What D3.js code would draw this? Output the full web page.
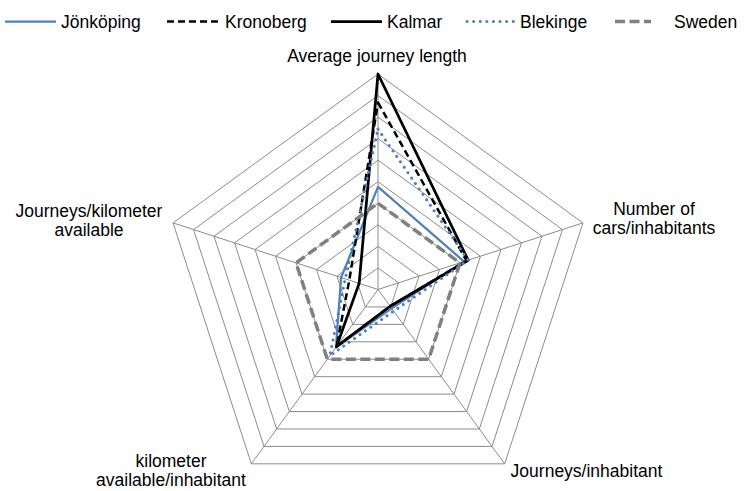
<!DOCTYPE html>
<html>
<head>
<meta charset="utf-8">
<script src="https://cdn.jsdelivr.net/npm/d3@7"></script>
<style>
  body { margin: 0; background: #fff; }
  text { font-family: Arial, "Liberation Sans", sans-serif; fill: #000; }
</style>
</head>
<body>
<div id="chart-area"></div>
<script>
// axes, clockwise from the top
var axes = ["Average journey length", "Number of cars/inhabitants", "Journeys/inhabitant",
            "kilometer available/inhabitant", "Journeys/kilometer available"];
var axisLines = [["Average journey length"], ["Number of", "cars/inhabitants"], ["Journeys/inhabitant"],
                 ["kilometer", "available/inhabitant"], ["Journeys/kilometer", "available"]];

// index, Sweden = 100
var jonkoping = [119, 105, 27, 83, 45];
var kronoberg = [217, 108, 24, 82, 35];
var kalmar    = [250, 110, 24, 82, 23];
var blekinge  = [186, 110, 31, 95, 40];
var sweden    = [100, 100, 100, 100, 100];

var seriesNames = ["Jönköping", "Kronoberg", "Kalmar", "Blekinge", "Sweden"];
var gridTicks = [25, 50, 75, 100, 125, 150, 175, 200, 225, 250];

var width = 744, height = 491;
var cx = 378, cy = 289.5, radius = 215.5;

var svg = d3.select("#chart-area").append("svg")
    .attr("width", width)
    .attr("height", height);

var r = d3.scaleLinear().domain([0, 250]).range([0, radius]);
var angle = d3.scalePoint().domain(axes).range([0, 2 * Math.PI * 4 / 5]);

var g = svg.append("g").attr("transform", "translate(" + cx + "," + cy + ")");

function pt(a, v) {
    var t = angle(a) - Math.PI / 2;
    return [Math.cos(t) * r(v), Math.sin(t) * r(v)];
}

// grid rings
g.selectAll(".ring")
    .data(gridTicks)
    .enter().append("polygon")
    .attr("class", "ring")
    .attr("points", (d) => {
        return axes.map((a) => pt(a, d).join(",")).join(" ");
    })
    .attr("fill", "none")
    .attr("stroke", "#8c8c8c")
    .attr("stroke-width", 1);

// spokes
g.selectAll(".spoke")
    .data(axes)
    .enter().append("line")
    .attr("x1", 0).attr("y1", 0)
    .attr("x2", (d) => pt(d, 250)[0])
    .attr("y2", (d) => pt(d, 250)[1])
    .attr("stroke", "#8c8c8c")
    .attr("stroke-width", 1);

// axis labels
var labelPos = [[-1, -228], [276, -74.5], [208.5, 187.5], [-207, 177.5], [-289, -72.5]];
axes.forEach((a, i) => {
    var t = g.append("text")
        .attr("x", labelPos[i][0])
        .attr("y", labelPos[i][1])
        .attr("text-anchor", "middle")
        .attr("font-size", "17.5px");
    axisLines[i].forEach((s, j) => {
        t.append("tspan")
            .attr("x", labelPos[i][0])
            .attr("dy", j === 0 ? 0 : 19)
            .text(s);
    });
});

var styles = [
    { color: "#4f81bd", width: 2.25, dash: null, cap: "butt" },
    { color: "#000000", width: 2.5, dash: "7,4", cap: "butt" },
    { color: "#000000", width: 2.75, dash: null, cap: "butt" },
    { color: "#4f81bd", width: 3, dash: "0.1,6.5", cap: "round" },
    { color: "#808080", width: 3.5, dash: "10,4.5", cap: "butt" }
];
var data = [jonkoping, kronoberg, kalmar, blekinge, sweden];

var radial = d3.lineRadial()
    .angle((d, i) => angle(axes[i]))
    .radius((d) => r(d))
    .curve(d3.curveLinearClosed);

g.selectAll(".series")
    .data(data)
    .enter().append("path")
    .attr("class", "series")
    .attr("d", (d) => radial(d))
    .attr("fill", "none")
    .attr("stroke", (d, i) => styles[i].color)
    .attr("stroke-width", (d, i) => styles[i].width)
    .attr("stroke-dasharray", (d, i) => styles[i].dash)
    .attr("stroke-linecap", (d, i) => styles[i].cap)
    .attr("stroke-linejoin", "round");

// legend
var legendX = [5, 167, 331, 467, 615];
var legendLen = [51, 53, 51, 48, 36];
var legend = svg.append("g").attr("class", "legend");
seriesNames.forEach((name, i) => {
    var s = styles[i];
    legend.append("line")
        .attr("x1", legendX[i]).attr("x2", legendX[i] + legendLen[i])
        .attr("y1", 21.5).attr("y2", 21.5)
        .attr("stroke", s.color)
        .attr("stroke-width", s.width)
        .attr("stroke-dasharray", s.dash)
        .attr("stroke-linecap", s.cap);
    legend.append("text")
        .attr("x", legendX[i] + legendLen[i] + (i === 4 ? 23 : 5))
        .attr("y", 28)
        .attr("font-size", "17.5px")
        .text(name);
});
</script>
</body>
</html>
